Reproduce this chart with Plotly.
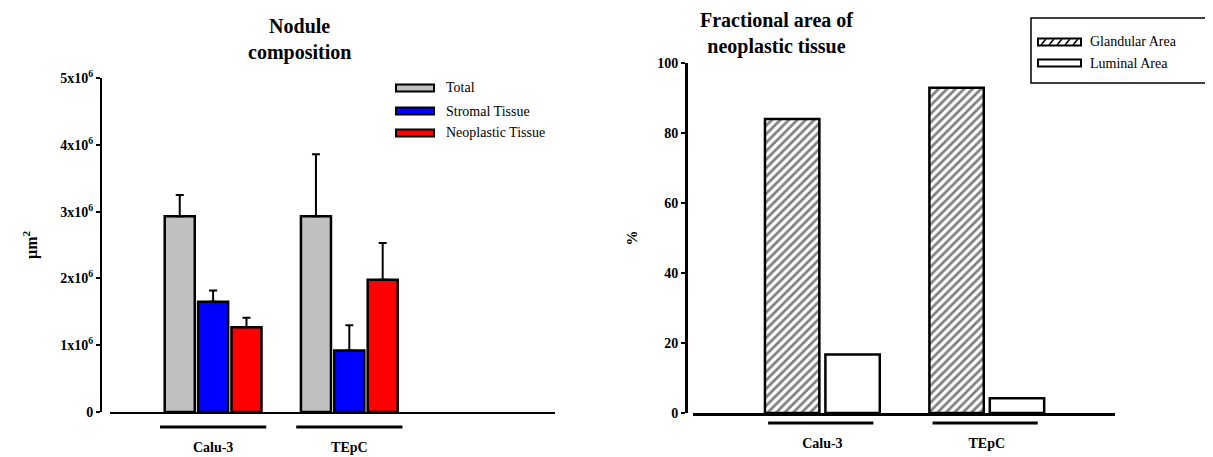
import plotly.graph_objects as go

# ---------------- data ----------------
cell_lines = ["Calu-3", "TEpC"]

total_area = [2.93e6, 2.93e6]
total_err = [0.32e6, 0.93e6]
stromal_area = [1.65e6, 0.92e6]
stromal_err = [0.17e6, 0.38e6]
neoplastic_area = [1.27e6, 1.98e6]
neoplastic_err = [0.14e6, 0.55e6]

left_tickvals = [0, 1e6, 2e6, 3e6, 4e6, 5e6]
left_ticktext = ["0", "1x10<sup>6</sup>", "2x10<sup>6</sup>", "3x10<sup>6</sup>",
                 "4x10<sup>6</sup>", "5x10<sup>6</sup>"]

glandular_pct = [84.0, 92.9]
luminal_pct = [16.7, 4.2]
right_tickvals = [0, 20, 40, 60, 80, 100]

# ---------------- styling helpers ----------------
# page body has an 8px margin at top/left; figure fills the rest of the window
OFF = 8
W, H = 1213 - OFF, 457 - OFF
FONT = "Liberation Serif, Times New Roman, serif"


def px(x):
    return (x - OFF) / W


def py(y):
    return 1 - (y - OFF) / H


fig = go.Figure()

# Left chart: nodule composition
series_left = [
    ("Total", total_area, total_err, "#c0c0c0"),
    ("Stromal Tissue", stromal_area, stromal_err, "#0000ff"),
    ("Neoplastic Tissue", neoplastic_area, neoplastic_err, "#ff0000"),
]
for name, vals, errs, col in series_left:
    fig.add_trace(go.Bar(
        x=cell_lines, y=vals, name=name, xaxis="x", yaxis="y",
        marker=dict(color=col, line=dict(color="black", width=2.5)),
        error_y=dict(type="data", array=errs, arrayminus=[0] * len(errs),
                     symmetric=False, color="black", thickness=2, width=4),
        showlegend=False,
    ))

# Right chart: fractional area
fig.add_trace(go.Bar(
    x=cell_lines, y=glandular_pct, name="Glandular Area", xaxis="x2", yaxis="y2",
    marker=dict(color="white", line=dict(color="black", width=2.5),
                pattern=dict(shape="/", fgcolor="black", bgcolor="white",
                             size=6, solidity=0.45)),
    showlegend=False,
))
fig.add_trace(go.Bar(
    x=cell_lines, y=luminal_pct, name="Luminal Area", xaxis="x2", yaxis="y2",
    marker=dict(color="white", line=dict(color="black", width=2.5)),
    showlegend=False,
))

tickfont = dict(family=FONT, size=14, color="black", weight="bold")

fig.update_layout(
    width=W, height=H,
    margin=dict(l=0, r=0, t=0, b=0, autoexpand=False),
    paper_bgcolor="white", plot_bgcolor="white",
    barmode="group",
    bargap=0.265, bargroupgap=0.1,
    font=dict(family=FONT, color="black"),
    xaxis=dict(domain=[px(110), px(555)], range=[-0.757, 2.51], anchor="y",
               showline=True, linecolor="black", linewidth=2,
               ticks="outside", ticklen=21, tickcolor="rgba(0,0,0,0)",
               tickfont=tickfont, showgrid=False, zeroline=False, automargin=False),
    yaxis=dict(domain=[py(412), py(78)], range=[0, 5e6], anchor="free",
               position=px(101),
               tickvals=left_tickvals, ticktext=left_ticktext,
               showline=True, linecolor="black", linewidth=2,
               ticks="outside", ticklen=4, tickwidth=2, tickcolor="black",
               tickfont=tickfont, showgrid=False, zeroline=False, automargin=False,
               title=dict(text="µm<sup>2</sup>", standoff=18,
                          font=dict(family=FONT, size=16, color="black", weight="bold"))),
    xaxis2=dict(domain=[px(693), px(1115)], range=[-0.787, 1.78], anchor="y2",
                showline=True, linecolor="black", linewidth=3,
                ticks="outside", ticklen=15, tickcolor="rgba(0,0,0,0)",
                tickfont=tickfont, showgrid=False, zeroline=False, automargin=False),
    yaxis2=dict(domain=[py(413), py(63)], range=[0, 100], anchor="free",
                position=px(686),
                tickvals=right_tickvals,
                showline=True, linecolor="black", linewidth=3,
                ticks="outside", ticklen=4, tickwidth=2, tickcolor="black",
                tickfont=tickfont, showgrid=False, zeroline=False, automargin=False,
                title=dict(text="%", standoff=14,
                           font=dict(family=FONT, size=15, color="black", weight="bold"))),
)

# Group brackets under each cell line
for i in range(len(cell_lines)):
    fig.add_shape(type="line", xref="x", yref="paper",
                  x0=i - 0.39, x1=i + 0.39, y0=py(427), y1=py(427),
                  line=dict(color="black", width=3))
    fig.add_shape(type="line", xref="x2", yref="paper",
                  x0=i - 0.33, x1=i + 0.31, y0=py(423), y1=py(423),
                  line=dict(color="black", width=3))

# Titles
title_font = dict(family=FONT, size=20, color="black", weight="bold")
fig.add_annotation(text="Nodule<br>composition", x=px(246), y=py(40), xref="paper", yref="paper",
                   showarrow=False, font=title_font, align="center", yanchor="middle")
fig.add_annotation(text="Fractional area of<br>neoplastic tissue", x=px(855), y=py(33),
                   xref="paper", yref="paper",
                   showarrow=False, font=title_font, align="center", yanchor="middle")

# Custom legend (left)
leg_font = dict(family=FONT, size=14, color="black")
left_rows = [88, 111, 133]
for (name, _, _, col), yy in zip(series_left, left_rows):
    fig.add_shape(type="rect", xref="paper", yref="paper",
                  x0=px(396), x1=px(434), y0=py(yy - 3.5), y1=py(yy + 3.5),
                  fillcolor=col, line=dict(color="black", width=2))
    fig.add_annotation(text=name, x=px(444), y=py(yy), xref="paper", yref="paper",
                       showarrow=False, xanchor="left", yanchor="middle", font=leg_font)

# Custom legend (right), boxed
fig.add_shape(type="rect", xref="paper", yref="paper",
              x0=px(1031), x1=px(1209), y0=py(83), y1=py(18),
              fillcolor="white", line=dict(color="black", width=1.5))
right_rows = [42, 63]
right_names = ["Glandular Area", "Luminal Area"]
for name, yy in zip(right_names, right_rows):
    fig.add_shape(type="rect", xref="paper", yref="paper",
                  x0=px(1038), x1=px(1081), y0=py(yy - 3.5), y1=py(yy + 3.5),
                  fillcolor="white", line=dict(color="black", width=2))
    fig.add_annotation(text=name, x=px(1088), y=py(yy), xref="paper", yref="paper",
                       showarrow=False, xanchor="left", yanchor="middle", font=leg_font)
# hatching in the glandular swatch
yy = right_rows[0]
for k in range(5):
    xa = 1041 + k * 8
    fig.add_shape(type="line", xref="paper", yref="paper",
                  x0=px(xa), x1=px(xa + 5), y0=py(yy + 3), y1=py(yy - 3),
                  line=dict(color="black", width=1.5))

fig.write_html("out.html")
